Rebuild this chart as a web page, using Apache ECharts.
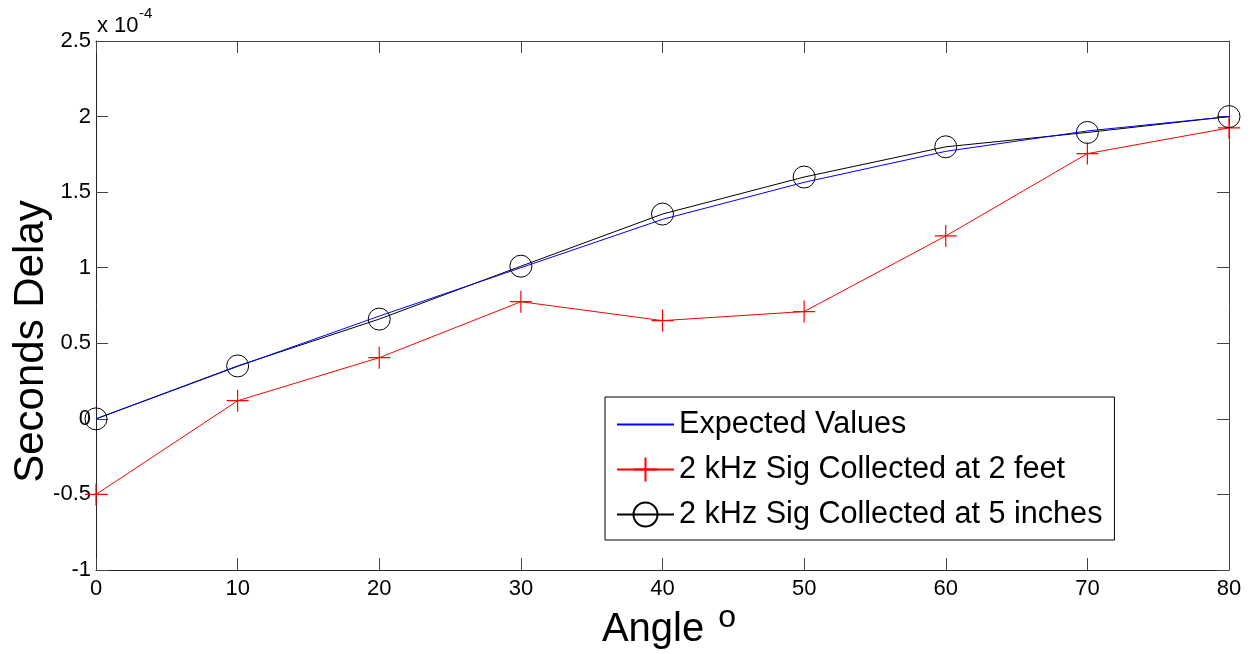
<!DOCTYPE html>
<html>
<head>
<meta charset="utf-8">
<script src="https://cdn.jsdelivr.net/npm/echarts@6/dist/echarts.min.js"></script>
<style>
  html, body { margin: 0; padding: 0; background: #fff; }
  #chart { width: 1252px; height: 654px; }
</style>
</head>
<body>
<div id="chart"></div>
<script>
// angles (degrees) and delays, in units of 1e-4 s
var angles = [0, 10, 20, 30, 40, 50, 60, 70, 80];
var expected = [0, 0.347, 0.68, 1.0, 1.32, 1.565, 1.77, 1.905, 2.0];
var sig2feet = [-0.5, 0.12, 0.405, 0.775, 0.65, 0.71, 1.21, 1.755, 1.925];
var sig5inches = [0, 0.35, 0.66, 1.01, 1.355, 1.6, 1.8, 1.895, 2.0];
var seriesNames = ['Expected Values', '2 kHz Sig Collected at 2 feet', '2 kHz Sig Collected at 5 inches'];

function pairs(vals) {
    return angles.map(function (a, i) { return [a, vals[i]]; });
}

var font = 'Liberation Sans, Arial, sans-serif';
var crossPath = 'path://M0,10L20,10M10,0L10,20';

var myChart = echarts.init(document.getElementById('chart'));

var option = {
    animation: false,
    grid: { left: 96, right: 23, top: 41, bottom: 84, containLabel: false, outerBoundsMode: 'none' },
    legend: {
        orient: 'vertical',
        left: 605,
        top: 397,
        padding: [12, 12, 10, 11],
        itemWidth: 57,
        itemHeight: 30,
        itemGap: 14,
        backgroundColor: '#fff',
        borderColor: '#000',
        borderWidth: 1,
        textStyle: { fontFamily: font, fontSize: 30.6, color: '#000' },
        data: [
            { name: seriesNames[0], itemStyle: { opacity: 0 } },
            seriesNames[1],
            seriesNames[2]
        ]
    },
    xAxis: [{
        type: 'value', min: 0, max: 80, interval: 10,
        name: 'Angle {sup|o}',
        nameLocation: 'middle',
        nameGap: 32,
        nameMoveOverlap: false,
        nameTextStyle: {
            fontFamily: font, fontSize: 40, color: '#000', padding: [0, 0, 0, 13],
            rich: { sup: { fontFamily: font, fontSize: 32, verticalAlign: 'top', padding: [0, 0, 24, 3] } }
        },
        axisLine: { onZero: false, lineStyle: { color: '#222', width: 1 } },
        axisTick: { inside: true, length: 12, lineStyle: { color: '#444' } },
        axisLabel: { fontFamily: font, fontSize: 22, color: '#000', margin: 8 },
        splitLine: { show: false }
    }, {
        type: 'value', min: 0, max: 80, interval: 10, position: 'top',
        axisLine: { show: true, onZero: false, lineStyle: { color: '#444', width: 1 } },
        axisTick: { inside: true, length: 12, lineStyle: { color: '#444' } },
        axisLabel: { show: false },
        splitLine: { show: false }
    }],
    yAxis: [{
        type: 'value', min: -1, max: 2.5, interval: 0.5,
        name: 'Seconds Delay',
        nameLocation: 'middle',
        nameGap: 44,
        nameMoveOverlap: false,
        nameTextStyle: { fontFamily: font, fontSize: 42, color: '#000', padding: [0, 72, 0, 0] },
        axisLine: { show: true, onZero: false, lineStyle: { color: '#222', width: 1 } },
        axisTick: { show: true, inside: true, length: 12, lineStyle: { color: '#444' } },
        axisLabel: { fontFamily: font, fontSize: 22, color: '#000', margin: 5 },
        splitLine: { show: false }
    }, {
        type: 'value', min: -1, max: 2.5, interval: 0.5, position: 'right',
        axisLine: { show: true, onZero: false, lineStyle: { color: '#444', width: 1 } },
        axisTick: { show: true, inside: true, length: 12, lineStyle: { color: '#444' } },
        axisLabel: { show: false },
        splitLine: { show: false }
    }],
    graphic: [
        { type: 'text', left: 97, top: 15, style: { text: 'x 10', font: '22px ' + font, fill: '#000' } },
        { type: 'text', left: 139, top: 6, style: { text: '-4', font: '15px ' + font, fill: '#000' } }
    ],
    series: [{
        name: seriesNames[0],
        type: 'line',
        data: pairs(expected),
        symbol: 'none',
        clip: false,
        z: 3,
        lineStyle: { color: '#0000ff', width: 1 },
        itemStyle: { color: '#0000ff' }
    }, {
        name: seriesNames[1],
        type: 'line',
        data: pairs(sig2feet),
        symbol: crossPath,
        symbolSize: 22,
        clip: false,
        z: 2,
        lineStyle: { color: '#ff0000', width: 1 },
        itemStyle: { color: '#ff0000', borderColor: '#ff0000', borderWidth: 1.2 }
    }, {
        name: seriesNames[2],
        type: 'line',
        data: pairs(sig5inches),
        symbol: 'circle',
        symbolSize: 22,
        clip: false,
        z: 2,
        lineStyle: { color: '#000', width: 1 },
        itemStyle: { color: 'rgba(0,0,0,0)', borderColor: '#000', borderWidth: 1 }
    }]
};

myChart.setOption(option);
</script>
</body>
</html>
